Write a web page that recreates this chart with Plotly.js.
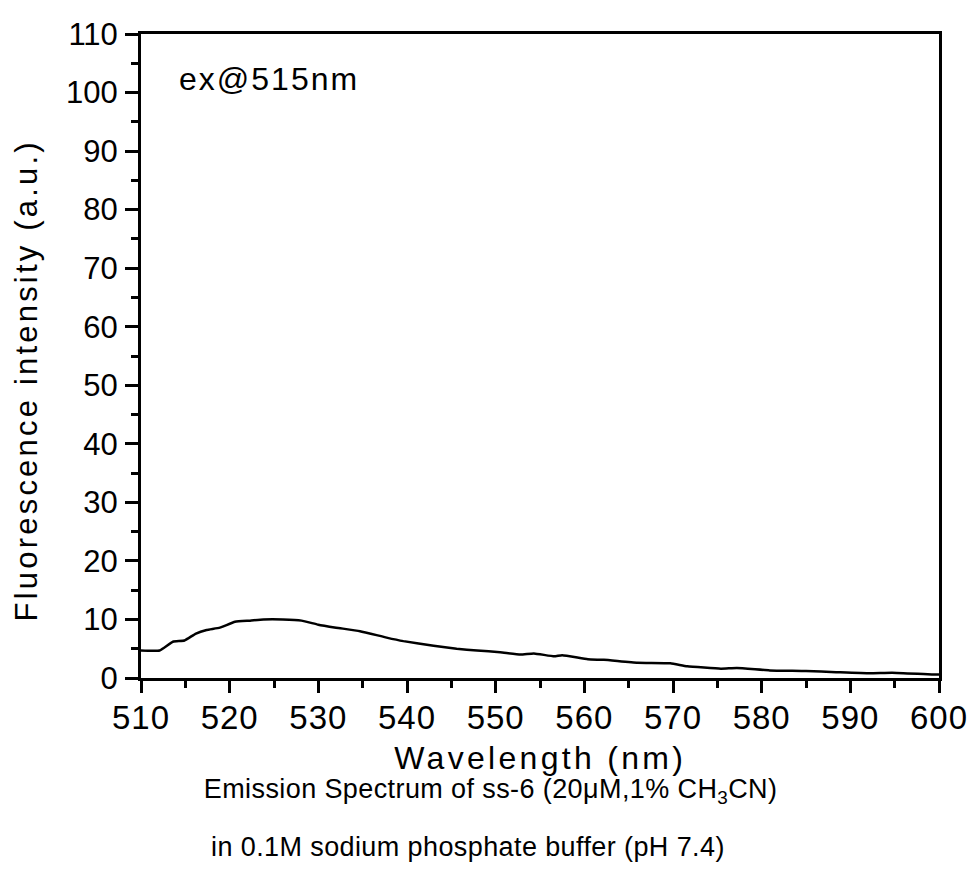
<!DOCTYPE html>
<html>
<head>
<meta charset="utf-8">
<script src="https://cdn.plot.ly/plotly-3.0.1.min.js"></script>
<style>
  html, body { margin: 0; padding: 0; background: #fff; }
  #chart { width: 974px; height: 870px; }
  .xtick text { letter-spacing: 1px; }
  g.annotation[data-index="0"] text { letter-spacing: 2px; }
  g.annotation[data-index="1"] text { letter-spacing: 3.3px; }
  g.annotation[data-index="2"] text { letter-spacing: 3.2px; }
  g.annotation[data-index="3"] text { letter-spacing: 0.4px; }
  g.annotation[data-index="4"] text { letter-spacing: 0.4px; }
</style>
</head>
<body>
<div id="chart"></div>
<script>
// Emission spectrum data
const wavelength = [510, 512.1, 513.6, 514.9, 516.2, 517.4, 518.9, 520.6, 522.3, 523.8, 526.0, 528.1, 530.0, 532.0, 534.7, 537.7, 539.6, 543.0, 545.6, 547.9, 550.5, 552.8, 554.3, 556.6, 557.5, 560.4, 562.2, 566.0, 569.7, 571.6, 575.4, 577.2, 580.9, 585.0, 588.4, 592.2, 594.7, 599.2, 600];
const intensity  = [4.7, 4.7, 6.2, 6.4, 7.6, 8.2, 8.6, 9.6, 9.8, 10.0, 10.0, 9.8, 9.1, 8.6, 8.0, 6.9, 6.3, 5.5, 5.0, 4.7, 4.4, 4.0, 4.2, 3.7, 3.9, 3.2, 3.1, 2.6, 2.5, 2.0, 1.6, 1.7, 1.3, 1.2, 1.0, 0.8, 0.9, 0.6, 0.6];

const xTitle = 'Wavelength (nm)';
const yTitle = 'Fluorescence intensity (a.u.)';
const insetLabel = 'ex@515nm';
const captionLine1 = 'Emission Spectrum of ss-6 (20\u03bcM,1% CH<sub>3</sub>CN)';
const captionLine2 = 'in 0.1M sodium phosphate buffer (pH 7.4)';

const FONT = '"Liberation Sans", Arial, sans-serif';

const trace = {
  x: wavelength,
  y: intensity,
  type: 'scatter',
  mode: 'lines',
  line: { color: '#000', width: 2.5, shape: 'spline', smoothing: 0.4 },
  hoverinfo: 'skip'
};

const layout = {
  width: 974,
  height: 870,
  margin: { l: 141, r: 35, t: 34, b: 192 },
  paper_bgcolor: '#fff',
  plot_bgcolor: '#fff',
  showlegend: false,
  font: { family: FONT, color: '#000' },
  xaxis: {
    range: [510, 600],
    dtick: 10,
    tick0: 510,
    showgrid: false,
    zeroline: false,
    showline: true,
    linecolor: '#000',
    linewidth: 3,
    mirror: true,
    ticks: 'outside',
    ticklen: 12,
    tickwidth: 3,
    tickcolor: '#000',
    ticklabelstandoff: -4,
    minor: { dtick: 5, ticks: 'outside', ticklen: 7, tickwidth: 3, tickcolor: '#000', showgrid: false },
    tickfont: { family: FONT, size: 33, color: '#000' }
  },
  yaxis: {
    range: [0, 110],
    dtick: 10,
    tick0: 0,
    showgrid: false,
    zeroline: false,
    showline: true,
    linecolor: '#000',
    linewidth: 3,
    mirror: true,
    ticks: 'outside',
    ticklen: 13,
    tickwidth: 3,
    tickcolor: '#000',
    ticklabelstandoff: 1,
    minor: { dtick: 5, ticks: 'outside', ticklen: 7, tickwidth: 3, tickcolor: '#000', showgrid: false },
    tickfont: { family: FONT, size: 31, color: '#000' }
  },
  annotations: [
    {
      text: insetLabel, xref: 'paper', yref: 'paper', x: (185 - 141) / 798, y: (678 - 79) / 644,
      xanchor: 'left', yanchor: 'middle', showarrow: false,
      font: { family: FONT, size: 32, color: '#000' }
    },
    {
      text: xTitle, xref: 'paper', yref: 'paper', x: 0.5, y: (678 - 758) / 644,
      xanchor: 'center', yanchor: 'middle', showarrow: false,
      font: { family: FONT, size: 32, color: '#000' }
    },
    {
      text: yTitle, xref: 'paper', yref: 'paper', x: (26 - 141) / 798, y: (678 - 381) / 644,
      xanchor: 'center', yanchor: 'middle', showarrow: false, textangle: -90,
      font: { family: FONT, size: 31, color: '#000' }
    },
    {
      text: captionLine1, xref: 'paper', yref: 'paper', x: (210 - 141) / 798, y: (678 - 791) / 644,
      xanchor: 'left', yanchor: 'middle', showarrow: false,
      font: { family: FONT, size: 27, color: '#000' }
    },
    {
      text: captionLine2, xref: 'paper', yref: 'paper', x: (217 - 141) / 798, y: (678 - 847) / 644,
      xanchor: 'left', yanchor: 'middle', showarrow: false,
      font: { family: FONT, size: 27, color: '#000' }
    }
  ]
};

Plotly.newPlot('chart', [trace], layout, { displayModeBar: false, staticPlot: true });
</script>
</body>
</html>
